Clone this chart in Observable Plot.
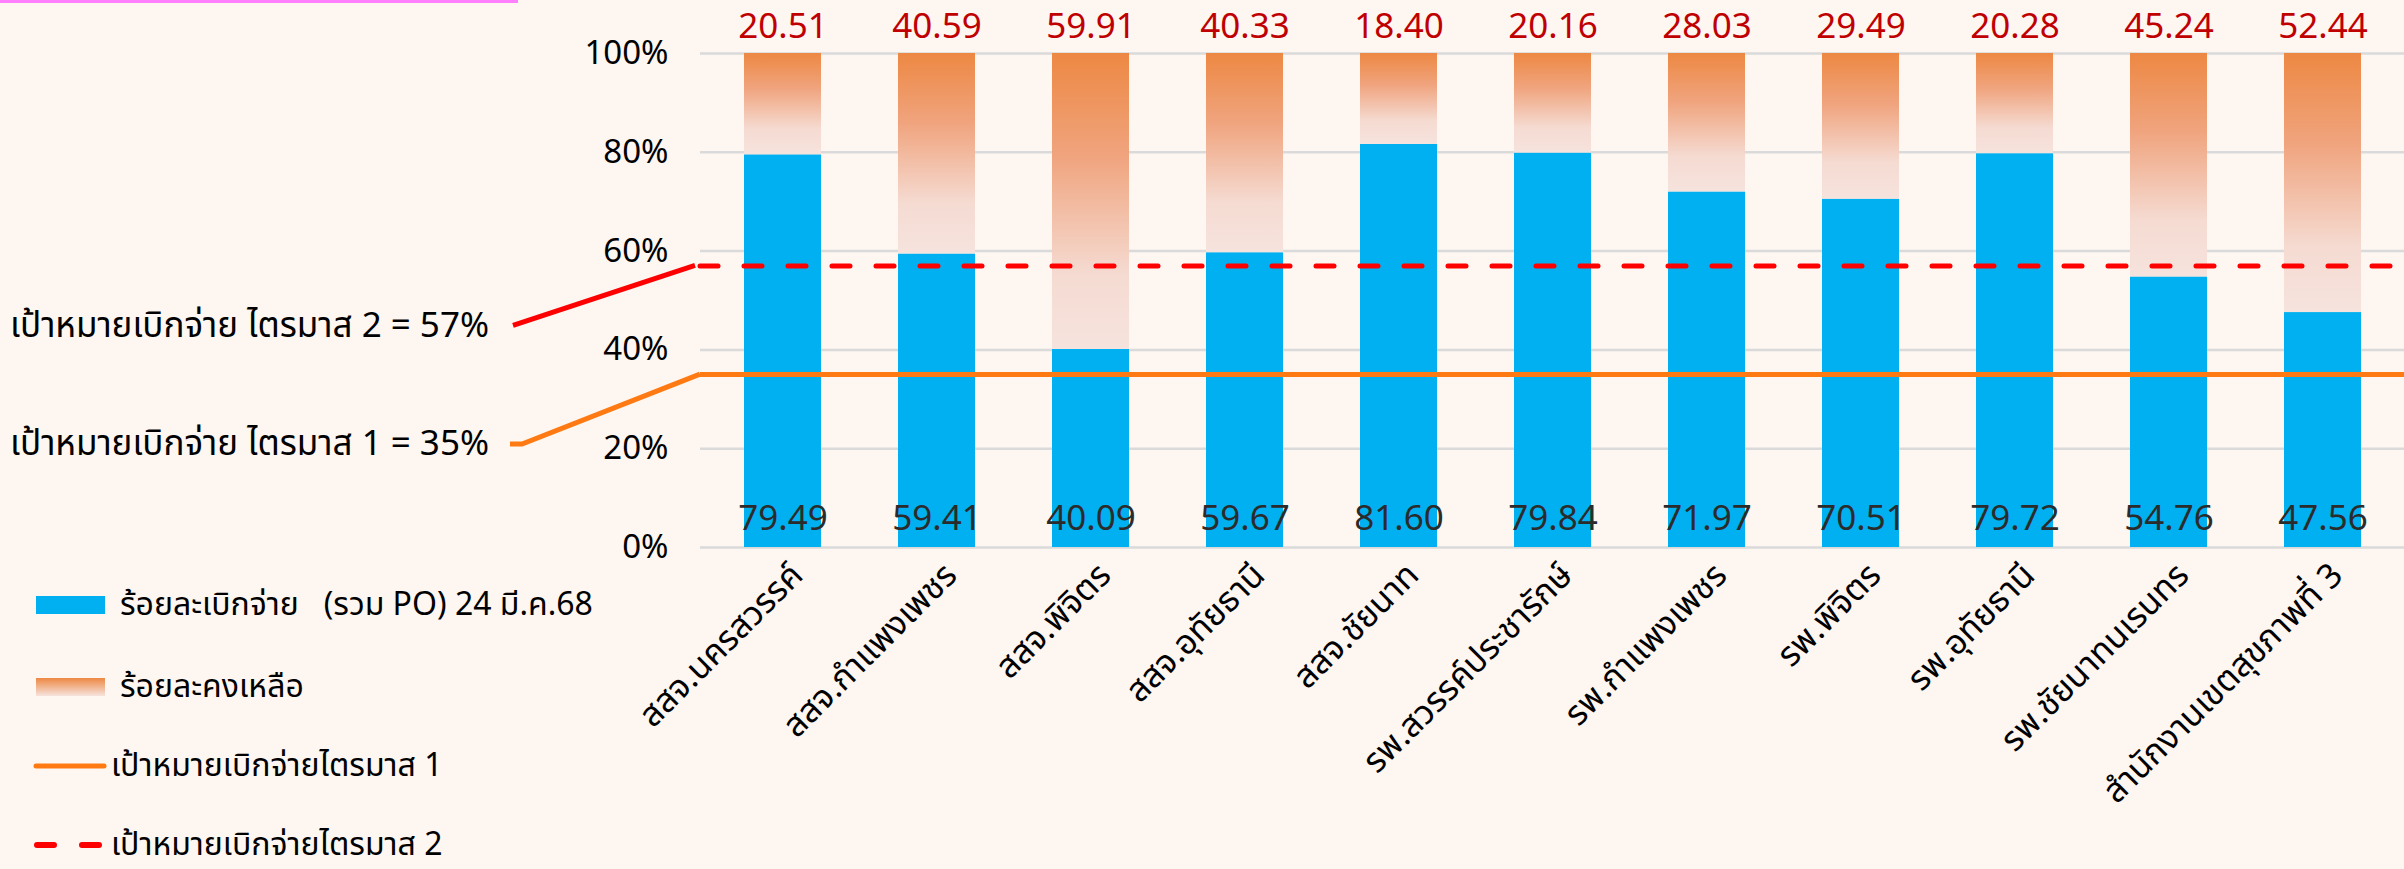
<!DOCTYPE html>
<html>
<head>
<meta charset="utf-8">
<script src="https://cdn.jsdelivr.net/npm/d3@7"></script>
<script src="https://cdn.jsdelivr.net/npm/@observablehq/plot@0.6"></script>
<style>
  html, body { margin: 0; padding: 0; background: #FDF6F1; }
  body { width: 2404px; height: 869px; overflow: hidden; position: relative;
         font-family: "Noto Sans Thai", "Noto Sans", sans-serif; }
  #topline { position: absolute; left: 0; top: 0; width: 518px; height: 3px; background: #FF80FF; }
  #chart { position: absolute; left: 0; top: 0; }
  #legend { position: absolute; left: 0; top: 568px; }
  #legend svg { overflow: visible; }
  #legend text { white-space: pre; }
</style>
</head>
<body>
<div id="topline"></div>
<div id="chart"></div>
<div id="legend"></div>
<script>
// ---- data ----
const categories = [
  "สสจ.นครสวรรค์", "สสจ.กำแพงเพชร", "สสจ.พิจิตร", "สสจ.อุทัยธานี", "สสจ.ชัยนาท",
  "รพ.สวรรค์ประชารักษ์", "รพ.กำแพงเพชร", "รพ.พิจิตร", "รพ.อุทัยธานี", "รพ.ชัยนาทนเรนทร",
  "สำนักงานเขตสุขภาพที่ 3"
];
const disbursed = [79.49, 59.41, 40.09, 59.67, 81.60, 79.84, 71.97, 70.51, 79.72, 54.76, 47.56];
const remaining = [20.51, 40.59, 59.91, 40.33, 18.40, 20.16, 28.03, 29.49, 20.28, 45.24, 52.44];
const targets = [35, 57];
const targetLabels = ["เป้าหมายเบิกจ่าย ไตรมาส 1 = 35%", "เป้าหมายเบิกจ่าย ไตรมาส 2 = 57%"];
const yTicks = [0, 20, 40, 60, 80, 100];
const seriesNames = [
  "ร้อยละเบิกจ่าย   (รวม PO) 24 มี.ค.68",
  "ร้อยละคงเหลือ",
  "เป้าหมายเบิกจ่ายไตรมาส 1",
  "เป้าหมายเบิกจ่ายไตรมาส 2"
];

// ---- styles ----
const FONT = '"Noto Sans Thai", "Noto Sans", sans-serif';
const BLUE = "#00B0F0";
const ORANGE_LINE = "#FF7A12";
const RED_LINE = "#FF0000";
const GRID = "#DADADA";

const rows = categories.map((c, i) => ({cat: c, disbursed: disbursed[i], remaining: remaining[i]}));

function gradientDefs() {
  const defs = d3.create("svg:defs");
  const g = defs.append("linearGradient").attr("id", "remGrad")
    .attr("x1", 0).attr("y1", 0).attr("x2", 0).attr("y2", 1);
  g.append("stop").attr("offset", "0%").attr("stop-color", "#ED8843");
  g.append("stop").attr("offset", "35%").attr("stop-color", "#F0A47E");
  g.append("stop").attr("offset", "75%").attr("stop-color", "#F5DBD2");
  g.append("stop").attr("offset", "100%").attr("stop-color", "#F6E3DD");
  return defs.node();
}

// leader lines + annotation labels, positioned from the y scale
function annotations(index, scales, values, dims) {
  const g = d3.create("svg:g");
  const left = dims.marginLeft;
  const y2 = scales.y(targets[1]);
  const y1 = scales.y(targets[0]);
  g.append("path")
    .attr("d", `M${left - 187},${y2 + 60} L${left - 5},${y2}`)
    .attr("stroke", RED_LINE).attr("stroke-width", 5).attr("fill", "none");
  g.append("path")
    .attr("d", `M${left - 190},${y1 + 70} L${left - 178},${y1 + 70} L${left},${y1}`)
    .attr("stroke", ORANGE_LINE).attr("stroke-width", 5).attr("fill", "none");
  g.append("text").attr("x", left - 211).attr("y", y2 + 61)
    .attr("text-anchor", "end").attr("dominant-baseline", "central")
    .attr("font-size", 35).attr("fill", "#000").attr("font-family", FONT)
    .text(targetLabels[1]);
  g.append("text").attr("x", left - 211).attr("y", y1 + 70)
    .attr("text-anchor", "end").attr("dominant-baseline", "central")
    .attr("font-size", 35).attr("fill", "#000").attr("font-family", FONT)
    .text(targetLabels[0]);
  return g.node();
}

const chart = Plot.plot({
  width: 2404,
  height: 869,
  marginLeft: 700,
  marginRight: 0,
  marginTop: 53,
  marginBottom: 322,
  style: {background: "transparent", fontFamily: FONT, overflow: "visible", color: "#000"},
  x: {domain: categories, paddingInner: 0.5, paddingOuter: 0.25, label: null},
  y: {domain: [0, 100], label: null},
  marks: [
    gradientDefs,
    Plot.gridY(yTicks, {stroke: GRID, strokeWidth: 2.5, strokeOpacity: 1}),
    Plot.barY(rows, {x: "cat", y1: 0, y2: "disbursed", fill: BLUE}),
    Plot.barY(rows, {x: "cat", y1: "disbursed", y2: d => d.disbursed + d.remaining, fill: "url(#remGrad)"}),
    Plot.ruleY([targets[0]], {stroke: ORANGE_LINE, strokeWidth: 5}),
    Plot.ruleY([targets[1]], {stroke: RED_LINE, strokeWidth: 5, strokeDasharray: "18 26", strokeLinecap: "round"}),
    Plot.text(rows, {x: "cat", y: d => d.disbursed + d.remaining, text: d => d.remaining.toFixed(2),
      dy: -27, fill: "#C00000", fontSize: 35}),
    Plot.text(rows, {x: "cat", y: 0, text: d => d.disbursed.toFixed(2),
      dy: -29, fill: "#2B2B2B", fontSize: 35}),
    Plot.axisY(yTicks, {tickFormat: d => d + "%", tickSize: 0, tickPadding: 32, fontSize: 33, fill: "#000"}),
    Plot.axisX({tickSize: 0, tickRotate: -45, fontSize: 34, fill: "#000", tickPadding: 22, dx: 14}),
    annotations
  ]
});
document.getElementById("chart").appendChild(chart);

// ---- legend ----
const L = d3.select("#legend").append("svg").attr("width", 700).attr("height", 290);
const ld = L.append("defs").append("linearGradient").attr("id", "legGrad")
  .attr("x1", 0).attr("y1", 0).attr("x2", 0).attr("y2", 1);
ld.append("stop").attr("offset", "0%").attr("stop-color", "#ED8843");
ld.append("stop").attr("offset", "100%").attr("stop-color", "#F6E3DD");
const items = [
  {cy: 37, kind: "blue", tx: 120},
  {cy: 119, kind: "grad", tx: 120},
  {cy: 198, kind: "orange", tx: 111},
  {cy: 277, kind: "red", tx: 111}
];
items.forEach((it, i) => {
  if (it.kind === "blue") L.append("rect").attr("x", 36).attr("y", it.cy - 9).attr("width", 69).attr("height", 18).attr("fill", BLUE);
  if (it.kind === "grad") L.append("rect").attr("x", 36).attr("y", it.cy - 9).attr("width", 69).attr("height", 18).attr("fill", "url(#legGrad)");
  if (it.kind === "orange") L.append("line").attr("x1", 36).attr("x2", 104).attr("y1", it.cy).attr("y2", it.cy)
    .attr("stroke", ORANGE_LINE).attr("stroke-width", 5).attr("stroke-linecap", "round");
  if (it.kind === "red") L.append("line").attr("x1", 37).attr("x2", 104).attr("y1", it.cy).attr("y2", it.cy)
    .attr("stroke", RED_LINE).attr("stroke-width", 6).attr("stroke-linecap", "round").attr("stroke-dasharray", "17 28");
  L.append("text").attr("x", it.tx).attr("y", it.cy).attr("dominant-baseline", "central")
    .attr("font-size", 32).attr("font-family", FONT).attr("fill", "#000")
    .attr("xml:space", "preserve").text(seriesNames[i]);
});
</script>
</body>
</html>
